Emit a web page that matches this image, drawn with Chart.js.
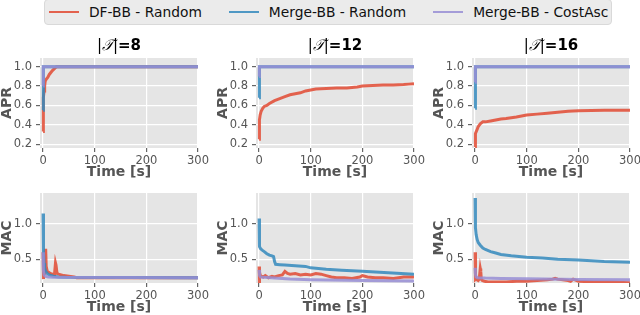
<!DOCTYPE html>
<html>
<head>
<meta charset="utf-8">
<script src="https://cdn.jsdelivr.net/npm/chart.js@4.4.1/dist/chart.umd.min.js"></script>
<style>
    body {
        margin: 0;
        width: 640px;
        height: 315px;
        overflow: hidden;
        background: #fff;
        position: relative;
        font-family: "DejaVu Sans", sans-serif;
    }
    #legend {
        position: absolute;
        left: 44px;
        top: -1px;
        width: 568px;
        height: 26px;
        box-sizing: border-box;
        border: 1px solid #d9d9d9;
        border-radius: 4px;
        background: #ebebeb;
        display: flex;
        align-items: center;
        padding-left: 4px;
        font-size: 13.8px;
        color: #111;
        white-space: nowrap;
    }
    #legend .item { display: flex; align-items: center; margin-right: 27px; flex-shrink: 0; }
    #legend .swatch { width: 30px; height: 2.5px; margin-right: 10px; }
    canvas { position: absolute; }
</style>
</head>
<body>
<div id="legend"></div>

<script>
// Beschriftungen und Achsen
const seriesNames = ['DF-BB - Random', 'Merge-BB - Random', 'Merge-BB - CostAsc'];
const seriesColors = ['rgba(226,74,51,0.85)', 'rgba(52,138,189,0.85)', 'rgba(152,142,213,0.85)'];
const panelSizes = ['8', '12', '16'];
const timeTicks = [0, 100, 200, 300];
const aprTicks = [0.2, 0.4, 0.6, 0.8, 1.0];
const macTicks = [0.5, 1.0];

// APR, |T|=8  -> [Zeit, Wert]
const apr8Dfbb = [[0, 0.33], [0, 0.55], [0.5, 0.6], [1, 0.68], [2, 0.75], [3, 0.8], [4, 0.85], [6, 0.87], [9, 0.89], [12, 0.92], [15, 0.94], [18, 0.96], [22, 0.98], [26, 1.0], [300, 1.0]];
const apr8Merge = [[0, 0.55], [0.2, 0.7], [0.5, 0.8], [1, 1.0], [300, 1.0]];
const apr8Cost = [[0, 0.8], [0.3, 1.0], [300, 1.0]];

// APR, |T|=12
const apr12Dfbb = [[0, 0.25], [0.3, 0.38], [1, 0.45], [2, 0.5], [4, 0.54], [7, 0.57], [10, 0.59], [15, 0.6], [20, 0.62], [30, 0.65], [40, 0.67], [50, 0.69], [60, 0.71], [70, 0.72], [80, 0.73], [90, 0.75], [100, 0.76], [110, 0.77], [130, 0.775], [150, 0.78], [170, 0.78], [180, 0.785], [190, 0.79], [200, 0.8], [220, 0.805], [240, 0.81], [260, 0.81], [280, 0.815], [290, 0.82], [300, 0.825]];
const apr12Merge = [[0, 0.68], [0.3, 0.9], [1, 1.0], [300, 1.0]];
const apr12Cost = [[0, 0.9], [0.5, 1.0], [300, 1.0]];

// APR, |T|=16
const apr16Dfbb = [[0, 0.17], [0.3, 0.28], [1, 0.31], [3, 0.34], [6, 0.38], [10, 0.41], [15, 0.43], [20, 0.43], [30, 0.44], [40, 0.45], [50, 0.46], [60, 0.465], [80, 0.48], [100, 0.5], [120, 0.51], [140, 0.52], [160, 0.53], [180, 0.54], [200, 0.545], [250, 0.55], [300, 0.55]];
const apr16Merge = [[0, 0.57], [0.3, 0.84], [1, 1.0], [300, 1.0]];
const apr16Cost = [[0, 0.84], [0.5, 1.0], [300, 1.0]];

// MAC, |T|=8
const mac8Dfbb = [[0, 0.6], [0.5, 0.22], [1, 0.5], [2, 0.3], [3, 0.45], [4, 0.62], [5, 0.65], [6, 0.4], [8, 0.33], [10, 0.32], [14, 0.3], [18, 0.29], [22, 0.28], [24, 0.45], [25, 0.42], [27, 0.3], [30, 0.29], [35, 0.28], [40, 0.27], [50, 0.26], [60, 0.25], [65, 0.24], [300, 0.24]];
const mac8Merge = [[0, 1.15], [0.5, 0.9], [1, 0.6], [2, 0.45], [3, 0.38], [5, 0.33], [8, 0.3], [12, 0.28], [20, 0.26], [30, 0.25], [45, 0.245], [300, 0.24]];
const mac8Cost = [[0, 0.6], [0.5, 0.35], [2, 0.28], [5, 0.26], [10, 0.25], [20, 0.245], [300, 0.24]];

// MAC, |T|=12
const mac12Dfbb = [[0, 0.4], [0.5, 0.16], [1, 0.32], [2, 0.28], [4, 0.26], [8, 0.25], [12, 0.27], [18, 0.24], [25, 0.26], [30, 0.25], [38, 0.27], [45, 0.28], [50, 0.33], [55, 0.3], [60, 0.29], [70, 0.3], [80, 0.28], [90, 0.29], [100, 0.28], [110, 0.3], [120, 0.29], [130, 0.27], [140, 0.25], [150, 0.24], [165, 0.24], [180, 0.23], [195, 0.25], [200, 0.27], [210, 0.25], [225, 0.24], [240, 0.24], [260, 0.23], [280, 0.25], [300, 0.25]];
const mac12Merge = [[0, 1.08], [0.5, 0.8], [1, 0.68], [3, 0.65], [6, 0.63], [10, 0.61], [15, 0.58], [20, 0.56], [25, 0.55], [28, 0.54], [30, 0.47], [32, 0.43], [40, 0.425], [50, 0.42], [70, 0.41], [90, 0.4], [100, 0.38], [130, 0.36], [160, 0.345], [200, 0.33], [250, 0.31], [300, 0.29]];
const mac12Cost = [[0, 0.35], [1, 0.27], [3, 0.25], [10, 0.245], [30, 0.235], [60, 0.22], [100, 0.21], [200, 0.2], [300, 0.195]];

// MAC, |T|=16
const mac16Dfbb = [[0, 0.6], [0.5, 0.25], [1, 0.22], [2, 0.23], [4, 0.21], [6, 0.2], [8, 0.22], [10, 0.37], [11, 0.33], [12, 0.22], [14, 0.2], [18, 0.19], [25, 0.18], [40, 0.18], [60, 0.18], [80, 0.19], [100, 0.19], [120, 0.2], [140, 0.21], [150, 0.22], [155, 0.23], [160, 0.22], [170, 0.21], [180, 0.2], [185, 0.19], [190, 0.22], [200, 0.19], [230, 0.18], [260, 0.18], [300, 0.17]];
const mac16Merge = [[0, 1.37], [0.3, 1.1], [1, 0.95], [2, 0.85], [4, 0.78], [6, 0.74], [10, 0.7], [15, 0.66], [20, 0.64], [30, 0.61], [40, 0.59], [50, 0.57], [70, 0.55], [100, 0.53], [130, 0.52], [160, 0.5], [200, 0.49], [250, 0.47], [300, 0.46]];
const mac16Cost = [[0, 0.38], [0.5, 0.3], [2, 0.25], [5, 0.24], [20, 0.235], [50, 0.23], [100, 0.225], [200, 0.215], [300, 0.21]];

const aprPanels = [[apr8Dfbb, apr8Merge, apr8Cost], [apr12Dfbb, apr12Merge, apr12Cost], [apr16Dfbb, apr16Merge, apr16Cost]];
const macPanels = [[mac8Dfbb, mac8Merge, mac8Cost], [mac12Dfbb, mac12Merge, mac12Cost], [mac16Dfbb, mac16Merge, mac16Cost]];

// Layout (Pixel)
const colLefts = [40, 256, 472];
const rowTops = [58, 193];
const plotW = 158, plotH = 90, axisW = 42, axisH = 34, padTop = 24, padRight = 13;

Chart.defaults.font.family = '"DejaVu Sans", sans-serif';

// Legende als HTML
const legend = document.getElementById('legend');
seriesNames.forEach((name, i) => {
    const item = document.createElement('div');
    item.className = 'item';
    item.innerHTML = `<span class="swatch" style="background:${seriesColors[i]}"></span><span>${name}</span>`;
    legend.appendChild(item);
});

// grauer Plot-Hintergrund
const panelBackground = {
    id: 'panelBackground',
    beforeDraw(chart) {
        const {ctx, chartArea: a} = chart;
        ctx.save();
        ctx.fillStyle = '#e5e5e5';
        ctx.fillRect(a.left, a.top, a.width, a.height);
        ctx.restore();
    }
};

// Titel |T|=n zentriert über der Plotfläche
const panelTitle = {
    id: 'panelTitle',
    afterDraw(chart, args, opts) {
        if (!opts.size) return;
        const {ctx, chartArea: a} = chart;
        const parts = [
            {text: '|', font: '15px "DejaVu Sans"'},
            {text: '𝒯', font: 'italic 15px "DejaVu Serif"'},
            {text: '|', font: '15px "DejaVu Sans"'},
            {text: '=' + opts.size, font: 'bold 15px "DejaVu Sans"'}
        ];
        ctx.save();
        let total = 0;
        parts.forEach(p => { ctx.font = p.font; p.w = ctx.measureText(p.text).width; total += p.w; });
        let x = (a.left + a.right) / 2 - total / 2;
        ctx.fillStyle = '#000';
        ctx.textBaseline = 'middle';
        parts.forEach(p => { ctx.font = p.font; ctx.fillText(p.text, x, a.top - 12); x += p.w; });
        ctx.restore();
    }
};

function buildChart(row, col, seriesList, yTicks, yMin, yMax, yLabel) {
    const canvas = document.createElement('canvas');
    canvas.width = axisW + plotW + padRight;
    canvas.height = padTop + plotH + axisH;
    canvas.style.left = (colLefts[col] - axisW) + 'px';
    canvas.style.top = (rowTops[row] - padTop) + 'px';
    document.body.appendChild(canvas);

    const datasets = seriesList.map((points, i) => ({
        label: seriesNames[i],
        data: points.map(p => ({x: p[0], y: p[1]})),
        borderColor: seriesColors[i],
        borderWidth: 3,
        pointRadius: 0,
        tension: 0,
        order: 3 - i
    }));

    new Chart(canvas, {
        type: 'line',
        data: {datasets: datasets},
        plugins: [panelBackground, panelTitle],
        options: {
            responsive: false,
            animation: false,
            devicePixelRatio: 1,
            layout: {padding: {top: padTop, right: padRight, left: 0, bottom: 0}},
            plugins: {
                legend: {display: false},
                tooltip: {enabled: false},
                panelTitle: {size: row === 0 ? panelSizes[col] : null}
            },
            scales: {
                x: {
                    type: 'linear',
                    min: -6,
                    max: 300,
                    afterBuildTicks: s => { s.ticks = timeTicks.map(v => ({value: v})); },
                    afterFit: s => { s.height = axisH; },
                    grid: {color: '#fff', lineWidth: 1.2, tickColor: '#666', tickLength: 4},
                    border: {display: false},
                    ticks: {color: '#555', font: {size: 11.5}, padding: 2, maxRotation: 0, callback: v => String(v)},
                    title: {display: true, text: 'Time [s]', color: '#555', font: {size: 14, weight: 'bold'}, padding: {top: 0, bottom: 1.5}}
                },
                y: {
                    min: yMin,
                    max: yMax,
                    afterBuildTicks: s => { s.ticks = yTicks.map(v => ({value: v})); },
                    afterFit: s => { s.width = axisW; },
                    grid: {color: '#fff', lineWidth: 1.2, tickColor: '#666', tickLength: 4},
                    border: {display: false},
                    ticks: {color: '#555', font: {size: 11.5}, padding: 4, callback: v => v.toFixed(1)},
                    title: {display: true, text: yLabel, color: '#555', font: {size: 14, weight: 'bold'}, padding: {top: 0.5, bottom: 0}}
                }
            }
        }
    });
}

for (let col = 0; col < 3; col++) {
    buildChart(0, col, aprPanels[col], aprTicks, 0.16, 1.09, 'APR');
    buildChart(1, col, macPanels[col], macTicks, 0.165, 1.44, 'MAC');
}
</script>
</body>
</html>
